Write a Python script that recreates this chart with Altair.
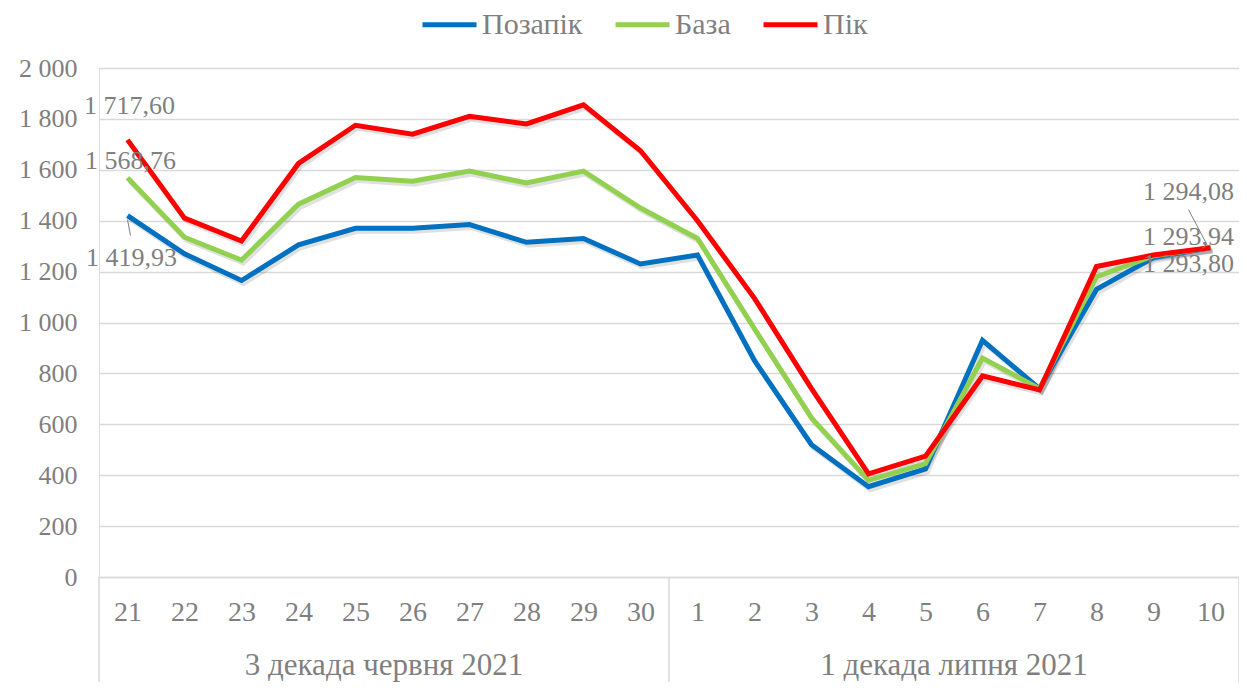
import json
import altair as alt
import pandas as pd

days = ["21", "22", "23", "24", "25", "26", "27", "28", "29", "30",
        "1", "2", "3", "4", "5", "6", "7", "8", "9", "10"]
groups = ["3 декада червня 2021", "1 декада липня 2021"]
series = ["Позапік", "База", "Пік"]
colors = ["#0070C0", "#92D050", "#FF0000"]

pozapik = [1419.93, 1270, 1165, 1305, 1370, 1370, 1385, 1315, 1330, 1230,
           1265, 850, 520, 355, 425, 930, 740, 1130, 1255, 1293.80]
baza = [1568.76, 1335, 1245, 1465, 1570, 1555, 1595, 1548, 1595, 1450,
        1330, 975, 625, 380, 445, 860, 740, 1180, 1262, 1293.94]
pik = [1717.60, 1410, 1320, 1625, 1775, 1740, 1810, 1780, 1855, 1675,
       1400, 1095, 740, 405, 475, 790, 735, 1220, 1265, 1294.08]

values = {"Позапік": pozapik, "База": baza, "Пік": pik}

FONT = "Liberation Serif, Times New Roman, DejaVu Serif, serif"
GRAY = "#7f7f7f"
GRID = "#d9d9d9"
W, H = 1140, 509
N = len(days)

rows = []
for s in series:
    for i, (d, v) in enumerate(zip(days, values[s])):
        rows.append({"idx": i, "day": d, "series": s, "value": v})
df = pd.DataFrame(rows)

xscale = alt.Scale(domain=[-0.5, N - 0.5], nice=False, zero=False)
yscale = alt.Scale(domain=[0, 2000], nice=False)

xaxis = alt.Axis(
    values=list(range(N)),
    labelExpr=json.dumps(days, ensure_ascii=False) + "[datum.value]",
    grid=False, ticks=False, domain=True, domainColor=GRID, domainWidth=1.5,
    labelFont=FONT, labelFontSize=28, labelColor=GRAY, labelPadding=21,
    labelFlush=False, labelOverlap=False, title=None,
)
yaxis = alt.Axis(
    values=list(range(0, 2001, 200)),
    labelExpr="replace(format(datum.value, ','), ',', ' ')",
    grid=True, gridColor=GRID, gridWidth=1.5, domain=False, ticks=False,
    labelFont=FONT, labelFontSize=26, labelColor=GRAY, labelPadding=22,
    title=None,
)

color = alt.Color(
    "series:N",
    scale=alt.Scale(domain=series, range=colors),
    legend=alt.Legend(
        orient="none", legendX=321, legendY=-73, direction="horizontal",
        title=None, symbolType="stroke", symbolStrokeWidth=5, symbolSize=2916,
        labelFont=FONT, labelFontSize=30, labelColor=GRAY, labelOffset=3,
        columnPadding=22, padding=0,
    ),
)

layers = []

# shadows
for s in series:
    layers.append(
        alt.Chart(df[df.series == s]).mark_line(
            strokeWidth=5, color="#000000", opacity=0.12, xOffset=2, yOffset=3
        ).encode(
            x=alt.X("idx:Q", scale=xscale, axis=xaxis),
            y=alt.Y("value:Q", scale=yscale, axis=yaxis),
        )
    )

for s in series:
    layers.append(
        alt.Chart(df[df.series == s]).mark_line(strokeWidth=5).encode(
            x=alt.X("idx:Q", scale=xscale, axis=xaxis),
            y=alt.Y("value:Q", scale=yscale, axis=yaxis),
            color=color,
        )
    )

# group separators
sep = pd.DataFrame({"pos": [-0.5, 9.5, N - 0.5]})
layers.append(
    alt.Chart(sep).mark_rule(color=GRID, strokeWidth=1.5).encode(
        x=alt.X("pos:Q", scale=xscale),
        y=alt.value(H), y2=alt.value(H + 130),
    )
)

# group labels
grp = pd.DataFrame({"pos": [4.5, 14.5], "label": groups})
layers.append(
    alt.Chart(grp).mark_text(font=FONT, fontSize=31, color=GRAY, baseline="middle").encode(
        x=alt.X("pos:Q", scale=xscale),
        y=alt.value(H + 89),
        text="label:N",
    )
)


def fmt(v):
    return f"{v:,.2f}".replace(",", " ").replace(".", ",")


def data_label(s, i, dx, dy):
    d = pd.DataFrame({"idx": [i], "value": [values[s][i]], "t": [fmt(values[s][i])]})
    return alt.Chart(d).mark_text(
        font=FONT, fontSize=26, color=GRAY, dx=dx, dy=dy, baseline="middle", align="center"
    ).encode(
        x=alt.X("idx:Q", scale=xscale),
        y=alt.Y("value:Q", scale=yscale),
        text="t:N",
    )


def leader(s, i, x0, y0, x1, y1):
    d = pd.DataFrame({"idx": [i], "value": [values[s][i]]})
    return alt.Chart(d).mark_rule(
        color=GRAY, strokeWidth=1, xOffset=x0, yOffset=y0, x2Offset=x1, y2Offset=y1
    ).encode(
        x=alt.X("idx:Q", scale=xscale), x2=alt.X2("idx"),
        y=alt.Y("value:Q", scale=yscale), y2=alt.Y2("value"),
    )


layers.append(leader("Позапік", 0, 0, 4, 3, 20))
layers.append(leader("Пік", N - 1, -3, -2, -22, -38))

layers.append(data_label("Пік", 0, 2, -34))
layers.append(data_label("База", 0, 3, -17))
layers.append(data_label("Позапік", 0, 4, 42))
layers.append(data_label("Пік", N - 1, -22, -56))
layers.append(data_label("База", N - 1, -22, -11))
layers.append(data_label("Позапік", N - 1, -22, 16))

chart = alt.layer(*layers).properties(
    width=W, height=H,
    autosize=alt.AutoSizeParams(type="none"),
    padding={"left": 91, "top": 60, "right": 0, "bottom": 105},
).configure_view(stroke=None).configure(background="white")

chart.save("out.html", embed_options={"renderer": "svg", "actions": False})
